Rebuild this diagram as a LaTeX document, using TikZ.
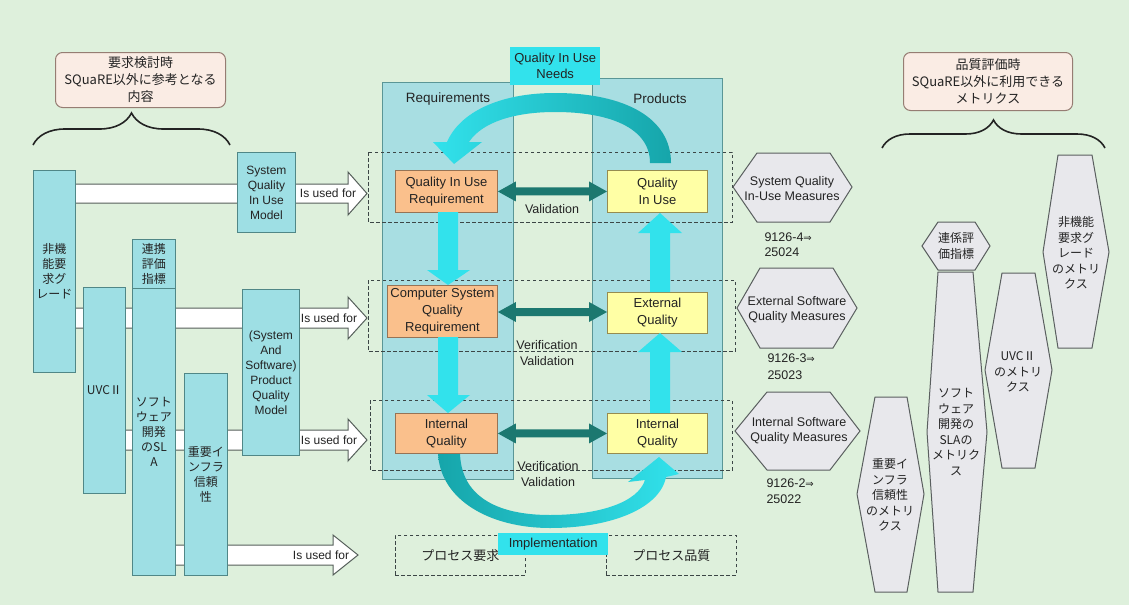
\documentclass[tikz,border=0pt]{standalone}
\usepackage{fontspec}
\setmainfont{Liberation Sans}
\newfontfamily\jp{Noto Sans CJK JP}
\newfontfamily\symf{DejaVu Sans}
\usetikzlibrary{decorations.pathreplacing,calc}

\definecolor{bg}{RGB}{222,240,220}
\definecolor{cyanbox}{RGB}{158,223,228}
\definecolor{boxedge}{RGB}{80,135,135}
\definecolor{panelc}{RGB}{168,222,226}
\definecolor{paneledge}{RGB}{90,150,150}
\definecolor{bright}{RGB}{50,226,236}
\definecolor{tealc}{RGB}{22,165,170}
\definecolor{dteal}{RGB}{28,120,112}
\definecolor{orangeb}{RGB}{250,192,140}
\definecolor{orangeedge}{RGB}{150,115,85}
\definecolor{yellowb}{RGB}{255,255,165}
\definecolor{yellowedge}{RGB}{150,140,80}
\definecolor{hexfill}{RGB}{232,232,236}
\definecolor{hexedge}{RGB}{90,95,95}
\definecolor{callfill}{RGB}{250,236,228}
\definecolor{calledge}{RGB}{150,125,115}
\definecolor{txt}{RGB}{35,35,35}
\definecolor{dashc}{RGB}{60,70,70}
\definecolor{bandedge}{RGB}{85,95,90}

\pgfdeclarelayer{ground}
\pgfdeclarelayer{back}
\pgfsetlayers{ground,back,main}

\begin{document}
\begin{tikzpicture}[x=1pt,y=-1pt,
  every node/.style={text=txt},
  cbox/.style={draw=boxedge, fill=cyanbox, line width=0.9pt, inner sep=1pt,
    align=center, anchor=north west},
  en/.style={font=\fontsize{12}{15}\selectfont},
  ja/.style={font=\jp\fontsize{12}{15}\selectfont},
  obox/.style={draw=orangeedge, fill=orangeb, line width=0.9pt, align=center,
    anchor=north west, inner sep=1pt, font=\fontsize{13}{17}\selectfont},
  ybox/.style={draw=yellowedge, fill=yellowb, line width=0.9pt, align=center,
    anchor=north west, inner sep=1pt, font=\fontsize{13}{17}\selectfont},
  panelst/.style={draw=paneledge, fill=panelc, line width=0.9pt, anchor=north west, inner sep=0pt},
  rowframe/.style={draw=dashc, line width=0.9pt, dash pattern=on 3.5pt off 2.5pt},
  usedarrow/.style={fill=white, draw=bandedge, line width=1pt},
  hexs/.style={fill=hexfill, draw=hexedge, line width=1pt},
  hexlbl/.style={align=center, font=\fontsize{12.5}{15}\selectfont},
  hexja/.style={align=center, font=\jp\fontsize{12}{15.5}\selectfont},
  lbl/.style={align=center, font=\fontsize{12.5}{15}\selectfont},
  uselbl/.style={font=\fontsize{12}{14}\selectfont},
  callst/.style={draw=calledge, fill=callfill, line width=1pt, rounded corners=7pt,
    anchor=north west, align=center, inner sep=1pt, font=\jp\fontsize{13}{17}\selectfont},
  bracest/.style={draw=txt, line width=1.6pt, decorate},
  hot/.style={fill=bright, anchor=north west, align=center, inner sep=1pt,
    font=\fontsize{13}{16}\selectfont},
]
\useasboundingbox (0,0) rectangle (1129,605);
\begin{pgfonlayer}{ground}
  \fill[bg] (0,0) rectangle (1129,605);
\end{pgfonlayer}

% ---------- callouts and braces ----------
\node[callst, minimum width=170, minimum height=55] (lcall) at (55,52)
  {要求検討時\\SQuaRE以外に参考となる\\内容};
\node[callst, minimum width=169, minimum height=58] (rcall) at (903,52)
  {品質評価時\\SQuaRE以外に利用できる\\メトリクス};
\draw[bracest, decoration={brace, amplitude=32pt}] (33,145) -- (230,145);
\draw[bracest, decoration={brace, amplitude=28pt}] (882,148) -- (1105,148);

% ---------- left-hand source boxes ----------
\node[cbox, ja, minimum width=42, minimum height=202] (nfr) at (33,170) {非機\\能要\\求グ\\レード};
\node[cbox, ja, minimum width=42, minimum height=206] (uvc) at (83,287) {UVCⅡ};
\node[cbox, ja, minimum width=43, minimum height=49] (rnk) at (132,239) {連携\\評価\\指標};
\node[cbox, ja, minimum width=43, minimum height=287] (sla) at (132,288) {ソフト\\ウェア\\開発\\のSL\\A};
\node[cbox, ja, minimum width=43, minimum height=202] (infra) at (184,373) {重要イ\\ンフラ\\信頼\\性};
\node[cbox, en, minimum width=58, minimum height=80] (siumodel) at (237,152) {System\\Quality\\In Use\\Model};
\node[cbox, en, minimum width=57, minimum height=166] (pqmodel) at (242,289)
  {(System\\And\\Software)\\Product\\Quality\\Model};

% ---------- "Is used for" bands (behind the boxes) ----------
\begin{pgfonlayer}{back}
  \path[usedarrow] (nfr.east |- 0,184) -- (348,184) -- (348,172) -- (367,193.5)
    -- (348,215) -- (348,203) -- (nfr.east |- 0,203);
  \path[usedarrow] (nfr.east |- 0,308) -- (348,308) -- (348,297) -- (367,318)
    -- (348,339) -- (348,328) -- (nfr.east |- 0,328);
  \path[usedarrow] (uvc.east |- 0,430) -- (348,430) -- (348,419) -- (367,440)
    -- (348,461) -- (348,450) -- (uvc.east |- 0,450);
  \path[usedarrow] (sla.east |- 0,545) -- (333,545) -- (333,535) -- (358,555)
    -- (333,575) -- (333,565) -- (sla.east |- 0,565);
\end{pgfonlayer}
\node[uselbl] (use1) at (328,193.5) {Is used for};
\node[uselbl] (use2) at (329,318) {Is used for};
\node[uselbl] (use3) at (329,440) {Is used for};
\node[uselbl] (use4) at (321,555) {Is used for};

% ---------- central panels ----------
\node[panelst, minimum width=131, minimum height=397] (reqpanel) at (382,82) {};
\node[panelst, minimum width=130, minimum height=400] (prodpanel) at (592,78) {};
\node[font=\fontsize{13.5}{16}\selectfont] (reqlbl) at (448,99) {Requirements};
\node[font=\fontsize{13.5}{16}\selectfont] (prodlbl) at (660,99) {Products};
\node[hot, minimum width=90, minimum height=38] (needs) at (510,47) {Quality In Use\\Needs};

% row frames
\draw[rowframe] (368,152) rectangle (732,222);
\draw[rowframe] (368,280) rectangle (735,351);
\draw[rowframe] (370,400) rectangle (732,470);

% bottom process boxes
\node[rowframe, anchor=north west, minimum width=130, minimum height=40,
  font=\jp\fontsize{13}{15}\selectfont] (procreq) at (395,535) {プロセス要求};
\node[rowframe, anchor=north west, minimum width=130, minimum height=40,
  font=\jp\fontsize{13}{15}\selectfont] (procq) at (606,535) {プロセス品質};
\node[hot, minimum width=110, minimum height=22] (impl) at (498,533) {Implementation};

% ---------- big curved arrows ----------
\shade[left color=bright, middle color=bright, right color=tealc]
  (671,163) .. controls (671,118) and (625,93) .. (555,93)
  .. controls (500,93) and (460,112) .. (447,142)
  -- (433,142) -- (454,164) -- (482,142) -- (469,142)
  .. controls (482,122) and (515,112) .. (555,112)
  .. controls (610,112) and (650,128) .. (650,163) -- cycle;
\shade[left color=tealc, middle color=bright, right color=bright]
  (438,453) .. controls (440,500) and (490,528) .. (550,528)
  .. controls (612,528) and (660,508) .. (666,477)
  -- (679,474) -- (659,457) -- (628,482) -- (645,480)
  .. controls (638,502) and (600,515) .. (550,515)
  .. controls (495,515) and (461,495) .. (460,453) -- cycle;

% ---------- requirement and product boxes ----------
\node[obox, minimum width=102, minimum height=42] (qiur) at (395,170) {Quality In Use\\Requirement};
\node[obox, minimum width=110, minimum height=52] (csqr) at (387,285) {Computer System\\Quality\\Requirement};
\node[obox, minimum width=102, minimum height=40] (iqr) at (395,413) {Internal\\Quality};
\node[ybox, minimum width=100, minimum height=42] (qiu) at (607,170) {Quality\\In Use};
\node[ybox, minimum width=100, minimum height=41] (extq) at (607,292) {External\\Quality};
\node[ybox, minimum width=100, minimum height=40] (intq) at (607,413) {Internal\\Quality};

% refinement arrows (requirements go down, products go up)
\fill[bright] (438,212) -- (458,212) -- (458,270) -- (470,270) -- (448,285)
  -- (427,270) -- (438,270) -- cycle;
\fill[bright] (438,337) -- (458,337) -- (458,395) -- (470,395) -- (448,413)
  -- (427,395) -- (438,395) -- cycle;
\fill[bright] (650,413) -- (670,413) -- (670,352) -- (682,352) -- (660,333)
  -- (638,352) -- (650,352) -- cycle;
\fill[bright] (650,292) -- (670,292) -- (670,233) -- (682,233) -- (660,213)
  -- (638,233) -- (650,233) -- cycle;

% validation / verification arrows
\fill[dteal] (qiur.east) -- ++(18,-10) -- ++(0,6) -- ($(qiu.west)+(-18,-4)$)
  -- ++(0,-6) -- (qiu.west) -- ++(-18,10) -- ++(0,-6) -- ($(qiur.east)+(18,4)$)
  -- ++(0,6) -- cycle;
\fill[dteal] (csqr.east |- 0,312) -- ++(18,-10) -- ++(0,6) -- ($(extq.west |- 0,312)+(-18,-4)$)
  -- ++(0,-6) -- (extq.west |- 0,312) -- ++(-18,10) -- ++(0,-6) -- ($(csqr.east |- 0,312)+(18,4)$)
  -- ++(0,6) -- cycle;
\fill[dteal] (iqr.east) -- ++(18,-10) -- ++(0,6) -- ($(intq.west)+(-18,-4)$)
  -- ++(0,-6) -- (intq.west) -- ++(-18,10) -- ++(0,-6) -- ($(iqr.east)+(18,4)$)
  -- ++(0,6) -- cycle;
\node[lbl] (val1) at (552,209) {Validation};
\node[lbl, font=\fontsize{12.5}{16}\selectfont] (val2) at (547,353) {Verification\\Validation};
\node[lbl, font=\fontsize{12.5}{16}\selectfont] (val3) at (548,474) {Verification\\Validation};

% ---------- SQuaRE measures ----------
\draw[hexs] (733,187) -- (757,153) -- (830,153) -- (852,187) -- (830,222) -- (757,222) -- cycle;
\node[hexlbl] (sqium) at (792,189) {System Quality\\In-Use Measures};
\draw[hexs] (737,308) -- (760,268) -- (833,268) -- (857,308) -- (833,348) -- (760,348) -- cycle;
\node[hexlbl] (esqm) at (797,310) {External Software\\Quality Measures};
\draw[hexs] (735,431) -- (767,392) -- (830,392) -- (860,431) -- (830,470) -- (767,470) -- cycle;
\node[hexlbl] (isqm) at (799,431) {Internal Software\\Quality Measures};
\node[anchor=west, font=\fontsize{12.5}{15}\selectfont] (n4) at (761,237) {9126-4{\symf\fontsize{10}{12}\selectfont ⇒}};
\node[anchor=west, font=\fontsize{12.5}{15}\selectfont] (n4b) at (761,252) {25024};
\node[anchor=west, font=\fontsize{12.5}{15}\selectfont] (n3) at (764,358) {9126-3{\symf\fontsize{10}{12}\selectfont ⇒}};
\node[anchor=west, font=\fontsize{12.5}{15}\selectfont] (n3b) at (764,375) {25023};
\node[anchor=west, font=\fontsize{12.5}{15}\selectfont] (n2) at (763,483) {9126-2{\symf\fontsize{10}{12}\selectfont ⇒}};
\node[anchor=west, font=\fontsize{12.5}{15}\selectfont] (n2b) at (763,499) {25022};

% ---------- other metrics ----------
\draw[hexs] (1043,252) -- (1058,155) -- (1092,155) -- (1109,252) -- (1092,348) -- (1058,348) -- cycle;
\node[hexja] (nfrm) at (1076,253) {非機能\\要求グ\\レード\\のメトリ\\クス};
\draw[hexs] (922,246) -- (938,222) -- (975,222) -- (990,246) -- (975,270) -- (938,270) -- cycle;
\node[hexja] (rnkm) at (956,246) {連係評\\価指標};
\draw[hexs] (927,432) -- (938,272) -- (973,272) -- (987,432) -- (973,592) -- (938,592) -- cycle;
\node[hexja] (slam) at (956,432) {ソフト\\ウェア\\開発の\\SLAの\\メトリク\\ス};
\draw[hexs] (985,370) -- (1002,273) -- (1035,273) -- (1052,370) -- (1035,468) -- (1002,468) -- cycle;
\node[hexja] (uvcm) at (1018,372) {UVCⅡ\\のメトリ\\クス};
\draw[hexs] (857,494) -- (875,397) -- (907,397) -- (924,494) -- (907,592) -- (875,592) -- cycle;
\node[hexja] (infram) at (890,495) {重要イ\\ンフラ\\信頼性\\のメトリ\\クス};
\end{tikzpicture}
\end{document}
